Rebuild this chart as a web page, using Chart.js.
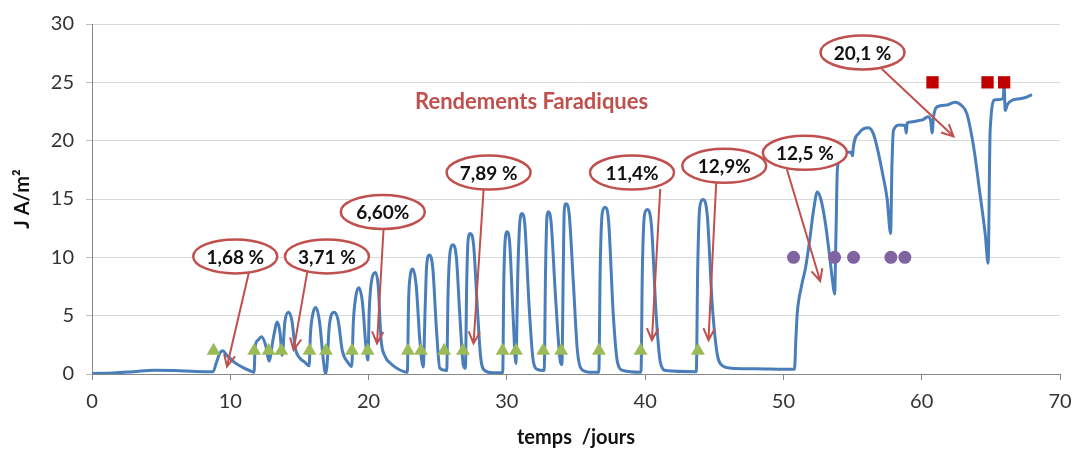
<!DOCTYPE html>
<html>
<head>
<meta charset="utf-8">
<script src="https://cdn.jsdelivr.net/npm/chart.js@4.4.0/dist/chart.umd.min.js"></script>
<style>
  html, body { margin: 0; padding: 0; background: #fff; }
  #wrap { width: 1075px; height: 450px; }
</style>
</head>
<body>
<div id="wrap"><canvas id="jChart"></canvas></div>
<script>
// current density J (A/m2) against time (days)
var jDays = [
  0, 1.5, 3, 4.5, 6, 7.5, 8.75, 9.0, 9.25, 9.45, 9.75, 10.3, 11.0, 11.6, 11.72,
  11.8, 12.0, 12.25, 12.55, 12.8, 13.1, 13.4, 13.6, 13.75, 13.95, 14.2, 14.45, 14.7,
  15.0, 15.4, 15.7, 15.8, 16.0, 16.2, 16.45, 16.75, 16.9, 17.0, 17.15, 17.5, 17.8,
  18.1, 18.5, 18.78, 18.9, 19.1, 19.3, 19.55, 19.8, 19.95, 20.05, 20.25, 20.5, 20.7,
  20.9, 21.2, 21.6, 22.1, 22.8, 22.9, 23.0, 23.2, 23.45, 23.7, 23.95, 24.1, 24.2,
  24.4, 24.65, 24.9, 25.15, 25.65, 25.75, 25.9, 26.1, 26.35, 26.6, 26.85, 27.0, 27.1,
  27.2, 27.35, 27.6, 27.85, 28.1, 28.4, 29.0, 29.7, 29.78, 29.9, 30.0, 30.2, 30.45,
  30.65, 30.8, 30.95, 31.1, 31.3, 31.6, 31.9, 32.2, 32.7, 32.8, 32.9, 33.0, 33.2,
  33.5, 33.85, 33.98, 34.08, 34.15, 34.27, 34.5, 34.8, 35.1, 35.4, 36.0, 36.65, 36.75,
  36.9, 37.1, 37.35, 37.7, 38.0, 38.4, 39.7, 39.8, 39.95, 40.15, 40.45, 40.8, 41.1,
  41.5, 43.7, 43.8, 43.95, 44.2, 44.5, 44.85, 45.2, 45.6, 46.2, 48.0, 50.8, 50.9,
  51.0, 51.3, 51.6, 51.9, 52.2, 52.45, 52.7, 53.0, 53.3, 53.55, 53.7, 53.8, 53.9,
  54.1, 54.5, 54.9, 55.0, 55.05, 55.5, 56.15, 56.5, 56.8, 57.2, 57.5, 57.75, 57.85,
  57.96, 58.45, 58.8, 58.88, 58.95, 59.2, 59.7, 60.1, 60.45, 60.65, 60.75, 60.85,
  61.1, 61.8, 62.4, 62.9, 63.27, 63.75, 64.23, 64.6, 64.8, 64.95, 65.3, 65.9, 65.96,
  66.0, 66.04, 66.2, 66.6, 67.1, 67.5, 67.97
];
var jDensity = [
  0.05, 0.08, 0.2, 0.33, 0.3, 0.22, 0.2, 1.0, 1.8, 2.0, 1.6, 1.0, 0.5, 0.2, 0.15,
  2.3, 2.9, 3.2, 2.5, 1.1, 3.0, 4.45, 3.5, 1.6, 4.5, 5.3, 4.6, 2.2,
  1.4, 1.0, 0.7, 3.5, 5.3, 5.7, 4.5, 1.0, 0.0, 0.8, 4.0, 5.3, 4.6,
  2.0, 1.0, 0.65, 4.5, 6.8, 7.4, 6.2, 2.5, 1.2, 5.5, 8.2, 8.7, 7.5,
  3.0, 1.5, 0.9, 0.45, 0.15, 6.5, 8.3, 9.0, 7.5, 3.0, 0.6, 6.0, 9.3,
  10.2, 9.0, 4.0, 0.5, 0.3, 7.0, 10.5, 11.07, 10.0, 5.0, 0.8, 0.5, 8.0,
  11.5, 12.05, 11.0, 6.0, 1.5, 0.3, 0.1, 0.1, 8.0, 11.8, 12.2, 11.3, 5.0,
  0.9, 9.0, 13.2, 13.75, 12.8, 6.0, 1.2, 0.4, 0.3, 9.0, 13.5, 13.9, 13.0,
  7.0, 1.2, 0.8, 9.0, 14.0, 14.6, 13.8, 8.0, 2.0, 0.4, 0.15, 0.15, 9.0,
  13.8, 14.3, 13.2, 5.0, 1.0, 0.3, 0.15, 9.0, 13.6, 14.1, 12.8, 5.0, 1.0,
  0.3, 0.2, 9.0, 14.3, 14.95, 13.5, 6.0, 1.8, 0.7, 0.5, 0.45, 0.4, 3.0,
  5.2, 7.5, 9.1, 11.5, 14.2, 15.6, 15.0, 13.2, 10.5, 8.0, 6.85, 12.0, 17.5,
  18.6, 19.0, 19.0, 18.7, 19.4, 20.7, 21.1, 20.6, 19.3, 17.0, 15.0, 12.05, 18.0,
  20.9, 21.35, 21.3, 20.65, 21.5, 21.6, 21.7, 21.8, 22.06, 21.7, 20.65, 22.0,
  22.9, 23.05, 23.3, 23.0, 22.3, 19.5, 15.3, 11.9, 9.5, 20.9, 23.5, 23.6, 25.0,
  23.5, 22.6, 23.1, 23.5, 23.6, 23.7, 23.95
];

// event markers
var triangleDays = [8.79, 11.73, 12.77, 13.69, 15.73, 16.92, 18.8, 19.93, 22.85, 23.79,
  25.47, 26.83, 29.69, 30.66, 32.63, 33.93, 36.66, 39.67, 43.82];
var triangleLevel = 2;
var circleDays = [50.73, 53.7, 55.07, 57.77, 58.78];
var circleLevel = 10;
var squareDays = [60.78, 64.76, 65.96];
var squareLevel = 25;

// faradaic yields written in the callouts
var yieldLabels = ['1,68 %', '3,71 %', '6,60%', '7,89 %', '11,4%', '12,9%', '12,5 %', '20,1 %'];

// callout placement (data units): bubble centre, arrow start, arrow tip
var callouts = [
  { at: [10.36, 10.08], from: [11.45, 9.24], to: [9.76, 0.64] },
  { at: [16.99, 10.08], from: [15.64, 9.24], to: [14.58, 2.05] },
  { at: [21.03, 13.89], from: [21.08, 12.37], to: [20.61, 2.62] },
  { at: [28.68, 17.27], from: [28.32, 15.86], to: [27.59, 2.62] },
  { at: [39.05, 17.27], from: [41.09, 15.86], to: [40.49, 2.9] },
  { at: [45.72, 17.84], from: [45.14, 16.42], to: [44.58, 2.9] },
  { at: [51.55, 18.96], from: [50.25, 17.55], to: [52.66, 7.97] },
  { at: [55.72, 27.56], from: [57.12, 26.15], to: [62.3, 20.37] }
];
var headline = { text: 'Rendements Faradiques', at: [31.79, 23.33] };

function pairs(xs, ys) {
  return xs.map(function(x, i) { return { x: x, y: ys[i] }; });
}
function level(xs, y) {
  return xs.map(function(x) { return { x: x, y: y }; });
}

var calloutPlugin = {
  id: 'callouts',
  afterDatasetsDraw: function(chart) {
    var ctx = chart.ctx;
    var sx = chart.scales.x, sy = chart.scales.y;
    var red = '#c0504d';
    ctx.save();

    ctx.fillStyle = red;
    ctx.font = 'bold 22px Lato';
    ctx.textAlign = 'center';
    ctx.textBaseline = 'middle';
    ctx.fillText(headline.text, sx.getPixelForValue(headline.at[0]), sy.getPixelForValue(headline.at[1]));

    callouts.forEach(function(c, i) {
      var fx = sx.getPixelForValue(c.from[0]), fy = sy.getPixelForValue(c.from[1]);
      var tx = sx.getPixelForValue(c.to[0]), ty = sy.getPixelForValue(c.to[1]);
      var ang = Math.atan2(ty - fy, tx - fx);
      ctx.strokeStyle = red;
      ctx.lineWidth = 2;
      ctx.beginPath();
      ctx.moveTo(fx, fy);
      ctx.lineTo(tx, ty);
      ctx.moveTo(tx - 13 * Math.cos(ang - 0.45), ty - 13 * Math.sin(ang - 0.45));
      ctx.lineTo(tx, ty);
      ctx.lineTo(tx - 13 * Math.cos(ang + 0.45), ty - 13 * Math.sin(ang + 0.45));
      ctx.stroke();

      var cx = sx.getPixelForValue(c.at[0]), cy = sy.getPixelForValue(c.at[1]);
      ctx.beginPath();
      ctx.ellipse(cx, cy, 42, 17, 0, 0, Math.PI * 2);
      ctx.fillStyle = '#fff';
      ctx.fill();
      ctx.lineWidth = 2.5;
      ctx.stroke();
      ctx.fillStyle = '#111';
      ctx.font = 'bold 19px Lato';
      ctx.fillText(yieldLabels[i], cx, cy + 1);
    });
    ctx.restore();
  }
};

var tickFont = { family: 'Lato', size: 20 };
var titleFont = { family: 'Lato', size: 20, weight: 'bold' };

new Chart(document.getElementById('jChart'), {
  type: 'scatter',
  data: {
    datasets: [
      {
        data: level(triangleDays, triangleLevel),
        pointStyle: 'triangle', pointRadius: 8,
        backgroundColor: '#9bbb59', borderColor: '#9bbb59', borderWidth: 0
      },
      {
        data: level(circleDays, circleLevel),
        pointStyle: 'circle', pointRadius: 6.5,
        backgroundColor: '#8064a2', borderColor: '#8064a2', borderWidth: 0
      },
      {
        data: level(squareDays, squareLevel),
        pointStyle: 'rect', pointRadius: 8.7,
        backgroundColor: '#c00000', borderColor: '#c00000', borderWidth: 0
      },
      {
        data: pairs(jDays, jDensity),
        showLine: true,
        pointRadius: 0,
        borderColor: '#4a7ebb',
        borderWidth: 3,
        cubicInterpolationMode: 'monotone',
        fill: false
      }
    ]
  },
  options: {
    responsive: true,
    maintainAspectRatio: false,
    animation: false,
    layout: { padding: { left: 0, right: 15, top: 20, bottom: 0 } },
    plugins: { legend: { display: false }, tooltip: { enabled: false } },
    scales: {
      x: {
        type: 'linear', min: 0, max: 70,
        ticks: { stepSize: 10, font: tickFont, color: '#333', padding: 10, maxRotation: 0 },
        grid: { drawOnChartArea: false, drawTicks: true, tickLength: 6, tickColor: '#888' },
        border: { color: '#888' },
        title: { display: true, text: 'temps  /jours', font: titleFont, color: '#111', padding: { top: 0, bottom: 0 } },
        afterFit: function(s) { s.height = 76; s.paddingRight = 0; s.paddingLeft = 0; }
      },
      y: {
        min: 0, max: 30,
        ticks: { stepSize: 5, font: tickFont, color: '#333', padding: 12 },
        grid: { color: '#d9d9d9', tickLength: 6, tickColor: '#bbb' },
        border: { color: '#888' },
        title: { display: true, text: 'J A/m²', font: titleFont, color: '#111', padding: { top: 11, bottom: 0 } },
        afterFit: function(s) { s.width = 92; }
      }
    }
  },
  plugins: [calloutPlugin]
});
</script>
</body>
</html>
